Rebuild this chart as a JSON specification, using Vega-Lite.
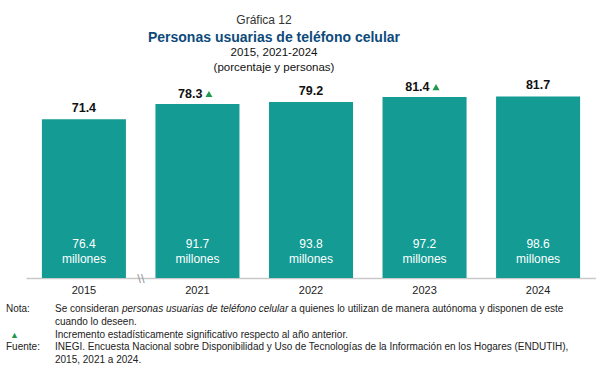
{
  "$schema": "https://vega.github.io/schema/vega-lite/v6.json",
  "padding": {"left": 6, "top": 13, "right": 0, "bottom": 0},
  "background": "white",
  "config": {"view": {"stroke": null}, "font": "Liberation Sans", "concat": {"spacing": 9}},
  "title": {"text": "Gráfica 12", "fontSize": 12, "fontWeight": "normal", "color": "#333333", "anchor": "middle", "dx": -37, "offset": 4},
  "vconcat": [
    {
      "width": 570,
      "height": 200,
      "title": {
        "text": "Personas usuarias de teléfono celular",
        "subtitle": ["2015, 2021-2024", "(porcentaje y personas)"],
        "fontSize": 14, "fontWeight": "bold", "color": "#0d4a7b",
        "subtitleFontSize": 11.5, "subtitleColor": "#111111", "subtitlePadding": 2, "subtitleLineHeight": 15,
        "anchor": "middle", "dx": -37, "offset": 5
      },
      "data": {"values": [
        {"year": "2015", "pct": 71.4, "mill": "76.4", "sig": false},
        {"year": "2021", "pct": 78.3, "mill": "91.7", "sig": true},
        {"year": "2022", "pct": 79.2, "mill": "93.8", "sig": false},
        {"year": "2023", "pct": 81.4, "mill": "97.2", "sig": true},
        {"year": "2024", "pct": 81.7, "mill": "98.6", "sig": false}
      ]},
      "encoding": {
        "x": {
          "field": "year", "type": "nominal",
          "scale": {"paddingInner": 0.26, "paddingOuter": 0.14},
          "axis": {"title": null, "labelAngle": 0, "ticks": false, "domainColor": "#c9c9c9", "domainWidth": 1.5, "labelFontSize": 11, "labelColor": "#222222", "labelPadding": 6}
        }
      },
      "layer": [
        {
          "mark": {"type": "bar", "color": "#139b94"},
          "encoding": {"y": {"field": "pct", "type": "quantitative", "scale": {"domain": [0, 88]}, "axis": null}}
        },
        {
          "transform": [{"filter": "!datum.sig"}],
          "mark": {"type": "text", "fontWeight": "bold", "fontSize": 12.5, "baseline": "middle", "dy": -11, "color": "#111111"},
          "encoding": {"y": {"field": "pct", "type": "quantitative"}, "text": {"field": "pct", "type": "quantitative", "format": ".1f"}}
        },
        {
          "transform": [{"filter": "datum.sig"}],
          "mark": {"type": "text", "fontWeight": "bold", "fontSize": 12.5, "baseline": "middle", "dy": -10, "align": "right", "dx": 5, "color": "#111111"},
          "encoding": {"y": {"field": "pct", "type": "quantitative"}, "text": {"field": "pct", "type": "quantitative", "format": ".1f"}}
        },
        {
          "transform": [{"filter": "datum.sig"}],
          "mark": {"type": "point", "shape": "triangle-up", "filled": true, "color": "#1e9a4e", "size": 50, "opacity": 1, "xOffset": 11.5, "yOffset": -10},
          "encoding": {"y": {"field": "pct", "type": "quantitative"}}
        },
        {
          "mark": {"type": "text", "fontSize": 12, "color": "white", "baseline": "middle", "dy": -34},
          "encoding": {"y": {"datum": 0, "type": "quantitative"}, "text": {"field": "mill"}}
        },
        {
          "mark": {"type": "text", "fontSize": 12, "color": "white", "baseline": "middle", "dy": -19},
          "encoding": {"y": {"datum": 0, "type": "quantitative"}, "text": {"value": "millones"}}
        },
        {
          "transform": [{"filter": "datum.year == '2015'"}],
          "mark": {"type": "text", "fontSize": 13, "color": "#9a9a9a", "baseline": "middle", "xOffset": 57, "dy": 1},
          "encoding": {"y": {"datum": 0, "type": "quantitative"}, "text": {"value": "\\\\"}}
        }
      ]
    },
    {
      "width": 570,
      "height": 51,
      "data": {"values": [
        {"line": 1, "part": "lab", "text": "Nota:"},
        {"line": 1, "part": "a", "text": "Se consideran"},
        {"line": 1, "part": "b", "text": "personas usuarias de teléfono celular"},
        {"line": 1, "part": "c", "text": "a quienes lo utilizan de manera autónoma y disponen de este"},
        {"line": 2, "part": "a", "text": "cuando lo deseen."},
        {"line": 3, "part": "tri", "text": "▲"},
        {"line": 3, "part": "a", "text": "Incremento estadísticamente significativo respecto al año anterior."},
        {"line": 4, "part": "lab", "text": "Fuente:"},
        {"line": 4, "part": "a", "text": "INEGI. Encuesta Nacional sobre Disponibilidad y Uso de Tecnologías de la Información en los Hogares (ENDUTIH),"},
        {"line": 5, "part": "a", "text": "2015, 2021 a 2024."}
      ]},
      "encoding": {
        "y": {"field": "line", "type": "ordinal", "scale": {"type": "point", "padding": 0}, "axis": null},
        "text": {"field": "text"}
      },
      "layer": [
        {
          "transform": [{"filter": "datum.part == 'lab'"}],
          "mark": {"type": "text", "align": "left", "baseline": "middle", "fontSize": 10, "font": "Liberation Sans", "color": "#222222", "x": -20}
        },
        {
          "transform": [{"filter": "datum.part == 'tri'"}],
          "mark": {"type": "text", "align": "left", "baseline": "middle", "fontSize": 9, "color": "#1e9a4e", "x": -16}
        },
        {
          "transform": [{"filter": "datum.part == 'a'"}],
          "mark": {"type": "text", "align": "left", "baseline": "middle", "fontSize": 10, "font": "Liberation Sans", "color": "#222222", "x": 29}
        },
        {
          "transform": [{"filter": "datum.part == 'b'"}],
          "mark": {"type": "text", "align": "left", "baseline": "middle", "fontSize": 10, "fontStyle": "italic", "font": "Liberation Sans", "color": "#222222", "x": 96}
        },
        {
          "transform": [{"filter": "datum.part == 'c'"}],
          "mark": {"type": "text", "align": "left", "baseline": "middle", "fontSize": 10, "font": "Liberation Sans", "color": "#222222", "x": 265}
        }
      ]
    }
  ]
}
